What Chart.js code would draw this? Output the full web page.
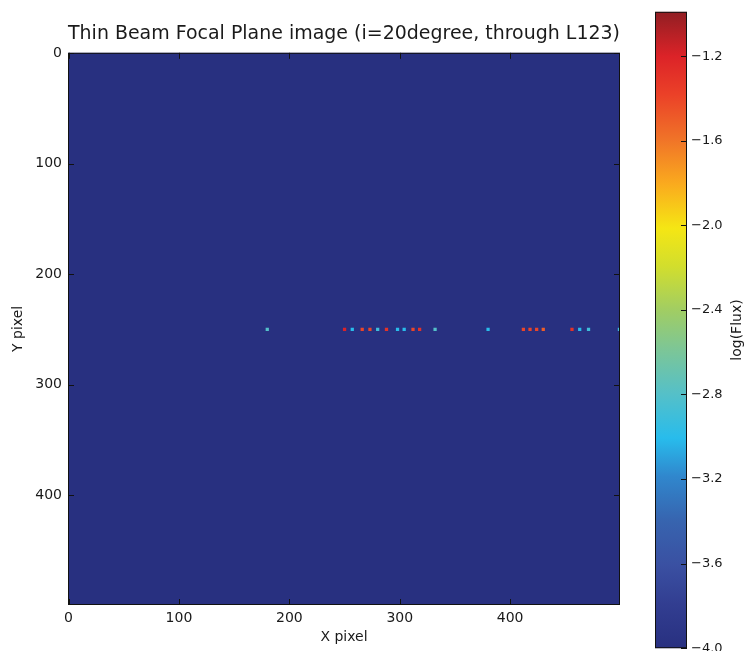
<!DOCTYPE html>
<html>
<head>
<meta charset="utf-8">
<script src="https://cdn.jsdelivr.net/npm/chart.js@4.4.1/dist/chart.umd.min.js"></script>
<style>
  html, body { margin: 0; padding: 0; background: #fff; }
  #wrap { position: relative; width: 747px; height: 651px; overflow: hidden; }
  #imgBox { position: absolute; left: 0; top: 0; }
  #barBox { position: absolute; left: 640px; top: 0; width: 107px; height: 651px; overflow: hidden; }
</style>
</head>
<body>
<div id="wrap">
  <div id="imgBox"><canvas id="image" width="640" height="651"></canvas></div>
  <div id="barBox"><canvas id="cbar" width="107" height="660"></canvas></div>
</div>
<script>
// spots on the focal plane (pixel coords) and their log flux
const spotX = [180, 250, 257, 266, 273, 280, 288, 298, 304, 312, 318, 332, 380, 412, 418, 424, 430, 456, 463, 471, 499];
const spotY = [250, 250, 250, 250, 250, 250, 250, 250, 250, 250, 250, 250, 250, 250, 250, 250, 250, 250, 250, 250, 250];
const spotLogFlux = [-2.8, -1.2, -3.0, -1.4, -1.4, -2.9, -1.3, -3.0, -3.0, -1.4, -1.3, -2.8, -3.0, -1.4, -1.4, -1.4, -1.5, -1.3, -3.0, -2.9, -2.9];

const xTicks = [0, 100, 200, 300, 400];
const yTicks = [0, 100, 200, 300, 400];
const fluxTicks = [-4.0, -3.6, -3.2, -2.8, -2.4, -2.0, -1.6, -1.2];
const fluxMin = -4.0;
const fluxMax = -0.99;

// washed-out jet colormap, as it looks in the reference
const cmapStops = [
    [0.00, 40, 48, 128],
    [0.07, 50, 62, 145],
    [0.13, 58, 80, 162],
    [0.20, 55, 100, 175],
    [0.27, 48, 135, 205],
    [0.33, 40, 188, 236],
    [0.40, 85, 192, 200],
    [0.47, 125, 198, 150],
    [0.53, 160, 205, 100],
    [0.60, 210, 222, 45],
    [0.66, 245, 230, 20],
    [0.73, 250, 170, 30],
    [0.80, 240, 115, 40],
    [0.87, 235, 65, 40],
    [0.93, 220, 35, 40],
    [1.00, 145, 30, 35]
];

function cmap(v) {
    const t = Math.min(1, Math.max(0, (v - fluxMin) / (fluxMax - fluxMin)));
    for (let i = 1; i < cmapStops.length; i++) {
        const a = cmapStops[i - 1], b = cmapStops[i];
        if (t <= b[0]) {
            const f = (t - a[0]) / (b[0] - a[0]);
            const c = [1, 2, 3].map(k => Math.round(a[k] + (b[k] - a[k]) * f));
            return `rgb(${c[0]},${c[1]},${c[2]})`;
        }
    }
    const l = cmapStops[cmapStops.length - 1];
    return `rgb(${l[1]},${l[2]},${l[3]})`;
}

const fmtMinus = v => (v < 0 ? '\u2212' : '') + Math.abs(v).toFixed(1);

Chart.defaults.font.family = "'DejaVu Sans', sans-serif";
Chart.defaults.font.size = 14;
Chart.defaults.color = '#1a1a1a';
Chart.defaults.animation = false;

// dark fill behind the image + frame with inward ticks on all sides
const imageFrame = {
    id: 'imageFrame',
    beforeDatasetsDraw(chart) {
        const { ctx, chartArea: a } = chart;
        ctx.save();
        ctx.fillStyle = cmap(fluxMin);
        ctx.fillRect(a.left, a.top, a.right - a.left, a.bottom - a.top);
        ctx.restore();
    },
    afterDraw(chart) {
        const { ctx, chartArea: a, scales } = chart;
        ctx.save();
        ctx.strokeStyle = '#111';
        ctx.lineWidth = 1;
        ctx.strokeRect(a.left + 0.5, a.top + 0.5, a.right - a.left - 1, a.bottom - a.top - 1);
        ctx.beginPath();
        xTicks.forEach(t => {
            const x = Math.round(scales.x.getPixelForValue(t)) + 0.5;
            ctx.moveTo(x, a.bottom); ctx.lineTo(x, a.bottom - 6);
            ctx.moveTo(x, a.top); ctx.lineTo(x, a.top + 6);
        });
        yTicks.forEach(t => {
            const y = Math.round(scales.y.getPixelForValue(t)) + 0.5;
            ctx.moveTo(a.left, y); ctx.lineTo(a.left + 6, y);
            ctx.moveTo(a.right, y); ctx.lineTo(a.right - 6, y);
        });
        ctx.stroke();
        ctx.restore();
    }
};

new Chart(document.getElementById('image'), {
    type: 'scatter',
    data: {
        datasets: [{
            label: 'spots',
            data: spotX.map((x, i) => ({ x: x, y: spotY[i] })),
            backgroundColor: spotLogFlux.map(cmap),
            borderWidth: 0,
            pointStyle: 'rect',
            pointRadius: 2.3
        }]
    },
    options: {
        responsive: false,
        layout: { padding: { top: 0, right: 20, bottom: 0, left: 0 } },
        plugins: {
            legend: { display: false },
            tooltip: { enabled: false },
            title: {
                display: true,
                fullSize: false,
                text: 'Thin Beam Focal Plane image (i=20degree, through L123)',
                font: { size: 19, weight: 'normal' },
                color: '#1a1a1a',
                padding: { top: 23, bottom: 7 }
            }
        },
        scales: {
            x: {
                type: 'linear',
                min: -0.5,
                max: 499.5,
                grid: { display: false, drawTicks: false },
                border: { display: false },
                afterBuildTicks: s => { s.ticks = xTicks.map(v => ({ value: v })); },
                afterFit: s => { s.height = 46; },
                ticks: { padding: 5, maxRotation: 0 },
                title: { display: true, text: 'X pixel', padding: { top: 0, bottom: 5 } }
            },
            y: {
                type: 'linear',
                reverse: true,
                min: -0.5,
                max: 499.5,
                grid: { display: false, drawTicks: false },
                border: { display: false },
                afterBuildTicks: s => { s.ticks = yTicks.map(v => ({ value: v })); },
                afterFit: s => { s.width = 68; },
                ticks: { padding: 6 },
                title: { display: true, text: 'Y pixel', padding: { top: 10, bottom: 0 } }
            }
        }
    },
    plugins: [imageFrame]
});

// colorbar: frame, ticks on the right edge, rotated label
const barFrame = {
    id: 'barFrame',
    afterDraw(chart) {
        const { ctx, chartArea: a, scales } = chart;
        ctx.save();
        ctx.strokeStyle = '#111';
        ctx.lineWidth = 1;
        ctx.strokeRect(a.left + 0.5, a.top + 0.5, a.right - a.left - 1, a.bottom - a.top - 1);
        ctx.beginPath();
        fluxTicks.forEach(t => {
            const y = Math.round(scales.y.getPixelForValue(t)) + 0.5;
            ctx.moveTo(a.right, y); ctx.lineTo(a.right - 6, y);
        });
        ctx.stroke();
        ctx.translate(97, (a.top + a.bottom) / 2);
        ctx.rotate(-Math.PI / 2);
        ctx.fillStyle = '#1a1a1a';
        ctx.font = "14px 'DejaVu Sans', sans-serif";
        ctx.textAlign = 'center';
        ctx.textBaseline = 'middle';
        ctx.fillText('log(Flux)', 0, 0);
        ctx.restore();
    }
};

new Chart(document.getElementById('cbar'), {
    type: 'bar',
    data: {
        labels: ['log(Flux)'],
        datasets: [{
            data: [[fluxMin, fluxMax]],
            backgroundColor: (c) => {
                const area = c.chart.chartArea;
                if (!area) return cmap(fluxMin);
                const g = c.chart.ctx.createLinearGradient(0, area.bottom, 0, area.top);
                cmapStops.forEach(s => g.addColorStop(s[0], `rgb(${s[1]},${s[2]},${s[3]})`));
                return g;
            },
            borderWidth: 0,
            barPercentage: 1,
            categoryPercentage: 1
        }]
    },
    options: {
        responsive: false,
        layout: { padding: { top: 10, right: 0, bottom: 6, left: 15 } },
        plugins: { legend: { display: false }, tooltip: { enabled: false } },
        scales: {
            x: { display: false },
            y: {
                type: 'linear',
                position: 'right',
                min: fluxMin,
                max: fluxMax,
                grid: { display: false, drawTicks: false },
                border: { display: false },
                afterBuildTicks: s => { s.ticks = fluxTicks.map(v => ({ value: v })); },
                afterFit: s => { s.width = 60; },
                ticks: { padding: 4, font: { size: 13 }, callback: v => fmtMinus(v) }
            }
        }
    },
    plugins: [barFrame]
});
</script>
</body>
</html>
